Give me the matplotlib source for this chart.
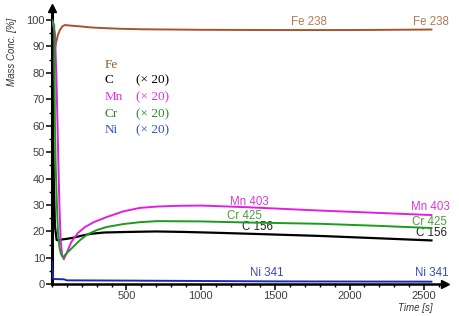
import numpy as np
import matplotlib.pyplot as plt

# -----------------------------
# DATA
# -----------------------------
fe_t = [0, 10, 20, 27, 40, 54, 70, 87, 120, 188, 260, 322, 456, 600, 800, 1000, 1500, 2000, 2550]
fe_v = [70, 84, 89, 91.4, 94.4, 96.3, 97.6, 98.1, 97.9, 97.6, 97.2, 97.0, 96.7, 96.5, 96.4, 96.3, 96.2, 96.2, 96.4]

c_t = [0, 5, 12, 20, 31, 45, 70, 100, 140, 200, 260, 350, 500, 700, 900, 1100, 1400, 1800, 2200, 2550]
c_v = [100, 70, 40, 22, 16.8, 16.6, 17.0, 17.2, 17.6, 18.4, 19.1, 19.6, 19.8, 20.0, 19.8, 19.5, 19.0, 18.3, 17.4, 16.6]

mn_t = [0, 20, 30, 35, 42, 50, 58, 68, 80, 100, 130, 174, 220, 280, 370, 480, 590, 700, 850, 1000, 1300, 1800, 2200, 2550]
mn_v = [100, 95, 78, 66, 48, 30, 17, 11, 9.5, 12, 16, 19.4, 21.6, 23.5, 25.5, 27.6, 28.9, 29.4, 29.7, 29.8, 29.2, 27.9, 27.0, 26.2]

cr_t = [0, 15, 20, 25, 32, 40, 50, 60, 74, 100, 141, 190, 242, 300, 369, 480, 590, 705, 1000, 1300, 1800, 2200, 2550]
cr_v = [100, 98, 60, 45, 32, 20, 14, 11.5, 10.2, 11.8, 14.1, 16.8, 19.0, 20.5, 21.7, 22.8, 23.5, 23.9, 23.8, 23.4, 22.9, 22.1, 21.3]

ni_t = [0, 4, 8, 15, 80, 100, 500, 1500, 2550]
ni_v = [8.6, 5, 2.2, 2.0, 1.9, 1.5, 1.4, 1.1, 1.0]

series = [
    # name, t, v, line colour, label colour, legend colour, label mid (t, v), label end (t, v)
    ("Fe", fe_t, fe_v, "#a5552a", "#b07a55", "#8b5a2b", (1725, 99.4), (2544, 99.4)),
    ("C", c_t, c_v, "#000000", "#222222", "#000000", (1383, 21.7), (2550, 19.4)),
    ("Mn", mn_t, mn_v, "#e020e0", "#d83ad8", "#e030e0", (1329, 31.1), (2544, 29.2)),
    ("Cr", cr_t, cr_v, "#1e9a1e", "#4a9e3a", "#2a8a2a", (1295, 25.8), (2537, 23.6)),
    ("Ni", ni_t, ni_v, "#1a2ab5", "#3a4ab8", "#3050c0", (1443, 4.3), (2550, 4.3)),
]
line_names = {"Fe": "Fe 238", "C": "C 156", "Mn": "Mn 403", "Cr": "Cr 425", "Ni": "Ni 341"}
legend_y = [83.0, 77.3, 70.9, 64.5, 58.4]
legend_factor = ["", "(\u00d7 20)", "(\u00d7 20)", "(\u00d7 20)", "(\u00d7 20)"]

# -----------------------------
# FIGURE
# -----------------------------
fig = plt.figure(figsize=(4.6, 3.16), dpi=100)
ax = fig.add_axes([0.113, 0.1003, 0.854, 0.874])

for name, t, v, lc, tc, gc, mid, end in series:
    lw = 1.6 if name == "C" else 1.4
    ax.plot(t, v, color=lc, lw=lw, zorder=3)
    for pos in (mid, end):
        ax.text(pos[0], pos[1], line_names[name], color=tc, fontsize=8.3,
                family="Liberation Sans", ha="center", va="center")

for (name, t, v, lc, tc, gc, mid, end), y, fac in zip(series, legend_y, legend_factor):
    ax.text(356, y, name, color=gc, fontsize=9.5, family="Liberation Serif",
            ha="left", va="center")
    if fac:
        ax.text(564, y, fac, color=gc, fontsize=9.5, family="Liberation Serif",
                ha="left", va="center")

ax.set_xlim(0, 2640)
ax.set_ylim(0, 104.5)
ax.set_xticks(np.arange(500, 2501, 500))
ax.set_xticks(np.arange(0, 2601, 100), minor=True)
ax.set_yticks(np.arange(0, 101, 10))
ax.set_yticks(np.arange(0, 101, 5), minor=True)

ax.spines["top"].set_visible(False)
ax.spines["right"].set_visible(False)
ax.spines["left"].set_linewidth(2.2)
ax.spines["bottom"].set_linewidth(1.8)
ax.tick_params(which="major", length=4, width=1.1, labelsize=8, labelcolor="#404040",
               direction="out", pad=1.0)
ax.tick_params(which="minor", length=2.5, width=1.0, direction="out")
for lab in ax.get_xticklabels() + ax.get_yticklabels():
    lab.set_family("Liberation Sans")

# axis arrows
ax.plot(1, 0, ">", color="k", ms=6, transform=ax.transAxes, clip_on=False, zorder=5)
ax.plot(0, 1, "^", color="k", ms=6, transform=ax.transAxes, clip_on=False, zorder=5)

fig.text(0.026, 1 - 52 / 316, "Mass Conc. [%]", rotation=90, fontsize=7, style="italic",
         family="Liberation Sans", color="#333333", ha="center", va="center")
fig.text(415 / 460, 1 - 308 / 316, "Time [s]", fontsize=7, style="italic",
         family="Liberation Sans", color="#333333", ha="center", va="center")

fig.savefig("out.png", dpi=100)
